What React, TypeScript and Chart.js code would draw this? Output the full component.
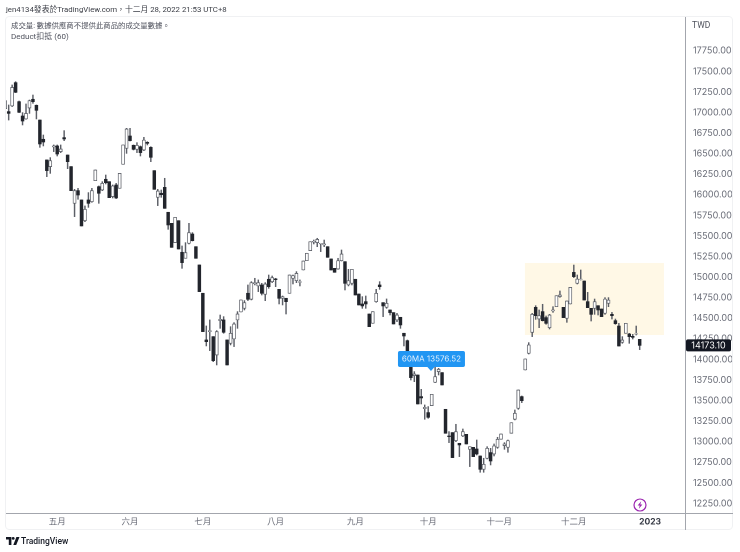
import React, { useEffect, useRef } from "react";
import { Chart, registerables } from "chart.js";

Chart.register(...registerables);

const opens = [17049,17013,17082,17365,17134,16960,16924,17057,17163,17090,16911,16677,16426,16345,16584,16596,16527,16697,16486,16345,15899,16053,15940,15688,15940,15919,16174,16101,16061,16191,16162,15980,16122,16081,16373,16567,16717,16604,16555,16587,16547,16640,16579,16296,15972,16021,16093,15790,15656,15421,15688,15304,15231,15413,15526,15372,15150,14806,14239,14340,14279,14056,14473,14482,14239,14198,14251,14482,14579,14623,14806,14733,14923,14895,14907,14793,14976,14947,14980,14854,14745,14745,14805,14988,14959,14940,15089,15202,15324,15429,15421,15405,15393,15372,15223,15109,15101,15202,15190,14907,14927,14976,14797,14676,14704,14554,14441,14704,14907,14692,14635,14603,14571,14482,14514,14320,14230,14050,13805,13813,13550,13404,13356,13441,13724,13854,13842,13396,13072,13113,13015,12983,13072,13092,12910,12934,12914,12829,12667,12801,12870,12853,12934,13032,12955,12934,13105,13275,13408,13550,13874,14076,14331,14635,14493,14583,14510,14388,14591,14643,14765,14635,14502,14676,15060,14927,14975,14955,14704,14623,14623,14655,14615,14562,14684,14550,14473,14408,14210,14319,14311,14283,14311,14246];
const highs = [17276,17094,17337,17377,17142,17001,17106,17154,17215,17094,16911,16729,16426,16454,16608,16608,16608,16782,16486,16345,16069,16081,15940,15867,16029,16081,16304,16110,16162,16243,16162,16122,16142,16263,16608,16810,16810,16608,16636,16596,16701,16648,16587,16296,16069,16061,16203,15790,15656,15729,15688,15381,15421,15656,15543,15372,15150,14806,14409,14482,14279,14352,14542,14522,14239,14400,14449,14583,14725,14717,14907,14947,14988,14968,14927,14935,15028,15016,14988,14854,14773,14745,15028,15028,15069,14968,15198,15292,15433,15453,15474,15413,15453,15372,15223,15109,15231,15332,15190,15097,15097,14976,14797,14765,14773,14554,14583,14854,14947,14692,14737,14603,14571,14562,14514,14320,14238,14016,13854,13813,13639,13449,13429,13578,13906,13894,13842,13396,13125,13113,13214,12983,13157,13092,12942,12934,13023,12829,12801,12942,12922,12975,13056,13096,12991,13023,13234,13388,13631,13558,14008,14206,14562,14655,14603,14672,14530,14550,14643,14777,14834,14635,14712,14878,15149,15028,15089,14955,14817,14623,14736,14655,14615,14753,14753,14574,14493,14441,14279,14441,14319,14307,14408,14246];
const lows = [17041,16911,17074,17244,17001,16851,16920,16992,17114,16924,16579,16596,16223,16263,16527,16474,16515,16660,16320,16053,15737,15948,15624,15676,15850,15911,16174,15899,16053,16134,15968,15964,15956,16081,16373,16506,16656,16547,16515,16474,16539,16608,16405,16069,15871,15972,15838,15583,15364,15421,15344,15109,15231,15405,15441,15231,14826,14340,14166,14109,13975,13935,14380,14320,13935,14178,14158,14380,14579,14603,14717,14725,14907,14826,14785,14716,14866,14935,14886,14676,14664,14554,14805,14919,14935,14895,15089,15202,15324,15405,15372,15312,15372,15243,15089,15061,15097,15198,14846,14895,14907,14785,14664,14623,14623,14400,14441,14696,14854,14522,14623,14542,14433,14461,14380,14166,14109,13752,13732,13461,13461,13275,13287,13441,13720,13813,13692,13105,12991,12809,13003,12821,13064,12975,12700,12821,12841,12631,12631,12793,12720,12829,12922,13032,12910,12874,13105,13267,13396,13477,13874,14068,14279,14489,14388,14469,14429,14372,14574,14643,14757,14510,14453,14676,14996,14919,14967,14724,14631,14469,14550,14542,14522,14550,14643,14493,14429,14165,14198,14319,14198,14250,14299,14121];
const closes = [17146,16992,17308,17248,17005,16899,16992,17146,17134,17029,16620,16644,16296,16417,16596,16498,16559,16681,16405,16053,16053,16000,15624,15826,15899,16053,16304,16021,16142,16150,15968,16110,15964,16263,16608,16802,16660,16555,16604,16515,16668,16628,16458,16069,16049,16004,15838,15636,15364,15729,15344,15178,15300,15543,15445,15231,14826,14340,14218,14352,13987,14340,14490,14332,13935,14320,14433,14554,14725,14692,14733,14935,14935,14935,14806,14919,14886,14996,14972,14745,14765,14704,15028,15020,15048,14947,15198,15292,15433,15437,15461,15413,15405,15243,15089,15061,15202,15283,14927,14959,15097,14785,14664,14652,14676,14400,14583,14806,14886,14652,14684,14571,14433,14542,14421,14287,14109,13781,13825,13461,13534,13420,13299,13578,13793,13882,13692,13105,13064,12809,13125,12963,13125,12975,12942,12821,12853,12667,12728,12922,12768,12951,13032,13096,12975,13015,13234,13348,13631,13501,14008,14178,14550,14534,14534,14473,14441,14542,14603,14777,14785,14510,14712,14878,15008,14979,14979,14724,14631,14550,14704,14603,14522,14736,14724,14534,14437,14165,14238,14441,14279,14271,14315,14173.1];

const priceTicks = [17750,17500,17250,17000,16750,16500,16250,16000,15750,15500,15250,15000,14750,14500,14250,14000,13750,13500,13250,13000,12750,12500,12250];
const monthPositions = [15,36,57,78,101,122,142.5,164,186];
const monthLabels = ["五月","六月","七月","八月","九月","十月","十一月","十二月","2023"];

const zoneDays = [149.9, 190];
const zonePrices = [15174, 14299];
const maDay = 122.8;
const maPrice = 13862;
const maLabel = "60MA 13576.52";
const lastPrice = 14173.1;
const lastLabel = "14173.10";

const FONT = 'Inter, Roboto, "Noto Sans CJK TC", sans-serif';
const TEXT_STACK = 'Roboto, "Noto Sans CJK TC", sans-serif';

const overlayPlugin = {
  id: "overlay",
  beforeDatasetsDraw(chart: any) {
    const { ctx, scales } = chart;
    const x0 = scales.x.getPixelForValue(zoneDays[0]);
    const x1 = scales.x.getPixelForValue(zoneDays[1]);
    const y0 = scales.y.getPixelForValue(zonePrices[0]);
    const y1 = scales.y.getPixelForValue(zonePrices[1]);
    ctx.save();
    ctx.fillStyle = "#fff8e6";
    ctx.fillRect(x0, y0, x1 - x0, y1 - y0);
    ctx.restore();
  },
  afterDatasetsDraw(chart: any) {
    const { ctx, scales } = chart;
    const ax = scales.x.getPixelForValue(maDay);
    const ay = scales.y.getPixelForValue(maPrice);
    ctx.save();
    ctx.fillStyle = "#2196f3";
    ctx.beginPath();
    ctx.roundRect(ax - 33, ay - 20, 67, 16, 2);
    ctx.fill();
    ctx.beginPath();
    ctx.moveTo(ax - 4, ay - 4.5);
    ctx.lineTo(ax + 4, ay - 4.5);
    ctx.lineTo(ax, ay);
    ctx.closePath();
    ctx.fill();
    ctx.fillStyle = "#e6f2fd";
    ctx.font = `8px ${FONT}`;
    ctx.textAlign = "center";
    ctx.textBaseline = "middle";
    ctx.fillText(maLabel, ax + 0.5, ay - 12);

    const ly = scales.y.getPixelForValue(lastPrice);
    const right = chart.chartArea.right;
    ctx.fillStyle = "#131722";
    ctx.beginPath();
    ctx.roundRect(right, ly - 6, 45, 12, 2);
    ctx.fill();
    ctx.fillStyle = "#ffffff";
    ctx.font = `9px ${FONT}`;
    ctx.fillText(lastLabel, right + 22.5, ly + 0.5);
    ctx.restore();
  },
};

const text = (style: React.CSSProperties): React.CSSProperties => ({
  position: "absolute",
  fontFamily: TEXT_STACK,
  whiteSpace: "nowrap",
  lineHeight: "12px",
  ...style,
});

export default function App() {
  const ref = useRef<HTMLCanvasElement>(null);

  useEffect(() => {
    const days = opens.map((_, i) => i);
    const pick = (up: boolean) =>
      days
        .filter((i) => closes[i] >= opens[i] === up)
        .map((i) => ({ x: i, y: [opens[i], closes[i]] }));
    const chart = new Chart(ref.current as HTMLCanvasElement, {
      type: "bar",
      data: {
        datasets: [
          {
            label: "up",
            data: pick(true),
            backgroundColor: "#ffffff",
            borderColor: "#5c5f67",
            borderWidth: 0.8,
            borderSkipped: false,
            barThickness: 3,
            grouped: false,
            order: 1,
          },
          {
            label: "down",
            data: pick(false),
            backgroundColor: "#22252c",
            borderWidth: 0,
            borderSkipped: false,
            barThickness: 2.8,
            grouped: false,
            order: 1,
          },
          {
            label: "range",
            data: days.map((i) => ({ x: i, y: [lows[i], highs[i]] })),
            backgroundColor: "#5c5f67",
            borderWidth: 0,
            barThickness: 0.8,
            grouped: false,
            order: 2,
          },
        ],
      } as any,
      options: {
        animation: false,
        responsive: false,
        devicePixelRatio: 2,
        layout: { padding: { left: 5, top: 16, right: 6, bottom: 22 } },
        plugins: { legend: { display: false }, tooltip: { enabled: false } },
        scales: {
          x: {
            type: "linear",
            stacked: false,
            min: -0.06,
            max: 196.36,
            offset: false,
            grid: { display: false, drawTicks: false },
            border: { display: false },
            afterFit: (s: any) => { s.height = 16; },
            afterBuildTicks: (s: any) => { s.ticks = monthPositions.map((value) => ({ value })); },
            ticks: {
              autoSkip: false,
              maxRotation: 0,
              padding: 3,
              color: (c: any) => (c.index === 8 ? "#363a45" : "#6a6d78"),
              font: (c: any) => ({ family: FONT, size: 8.5, weight: c.index === 8 ? "bold" : "normal" }),
              callback: (v: any) => monthLabels[monthPositions.indexOf(v)],
            },
          },
          y: {
            position: "right",
            min: 12124,
            max: 18175,
            grid: { display: false, drawTicks: false },
            border: { display: false },
            afterFit: (s: any) => { s.width = 48; },
            afterBuildTicks: (s: any) => { s.ticks = priceTicks.map((value) => ({ value })); },
            ticks: {
              padding: 7,
              color: "#6a6d78",
              font: { family: FONT, size: 9 },
              callback: (v: any) => Number(v).toFixed(2),
            },
          },
        },
      } as any,
      plugins: [overlayPlugin],
    });
    return () => chart.destroy();
  }, []);

  return (
    <div style={{ position: "absolute", left: 0, top: 0, width: 740, height: 552, background: "#fff", overflow: "hidden" }}>
      <canvas ref={ref} width={740} height={552} style={{ position: "absolute", left: 0, top: 0, width: 740, height: 552 }} />
      <div style={{ position: "absolute", left: 5, top: 16, width: 728, height: 514, border: "1px solid #f0f1f3", borderRadius: 4, boxSizing: "border-box", pointerEvents: "none" }} />
      <div style={{ position: "absolute", left: 6, top: 513, width: 727, height: 1, background: "#a3a6ad" }} />
      <div style={{ position: "absolute", left: 685, top: 17, width: 1, height: 513, background: "#a3a6ad" }} />
      <div style={text({ left: 6, top: 4, fontSize: 7.8, color: "#3a3d45" })}>jen4134發表於TradingView.com，十二月 28, 2022 21:53 UTC+8</div>
      <div style={text({ left: 11, top: 20, fontSize: 7.4, color: "#50535e" })}>成交量: 數據供應商不提供此商品的成交量數據。</div>
      <div style={text({ left: 11, top: 31, fontSize: 8, color: "#50535e" })}>Deduct扣抵 (60)</div>
      <div style={text({ left: 692, top: 19, fontSize: 8.5, color: "#50535e" })}>TWD</div>
      <svg style={{ position: "absolute", left: 632, top: 497 }} width="16" height="16" viewBox="0 0 16 16">
        <circle cx="8" cy="8" r="6" fill="#fff" stroke="#9c27b0" strokeWidth="1.2" />
        <path d="M9.2 4.2 5.6 8.6h2.1L6.9 11.8l3.5-4.4H8.3z" fill="#9c27b0" />
      </svg>
      <svg style={{ position: "absolute", left: 6, top: 536 }} width="14" height="10" viewBox="0 0 14 10">
        <path d="M0 1h5.4v8H2.8V3.6H0z" fill="#131722" />
        <circle cx="7.2" cy="2.4" r="1.4" fill="#131722" />
        <path d="M10.4 1h3.1L10.2 9H7.3z" fill="#131722" />
      </svg>
      <div style={text({ left: 21, top: 535, fontSize: 8.5, fontWeight: 500, color: "#131722" })}>TradingView</div>
    </div>
  );
}
